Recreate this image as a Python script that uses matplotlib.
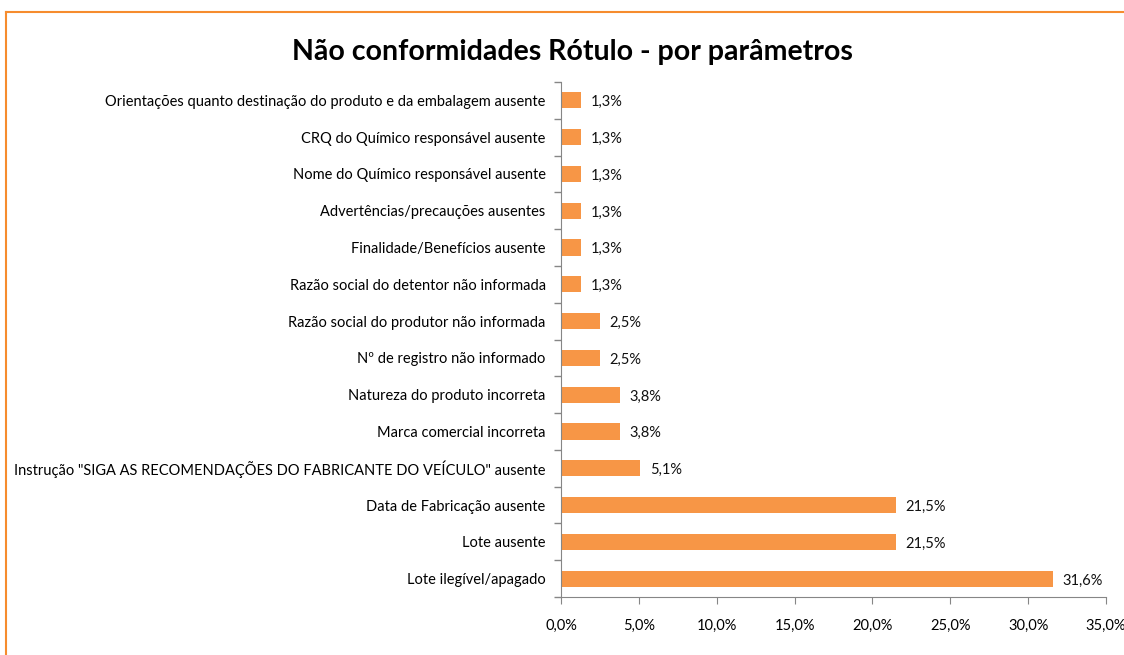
import matplotlib.pyplot as plt
from matplotlib.lines import Line2D
from matplotlib.ticker import FuncFormatter, MultipleLocator

categories = [
    "Lote ilegível/apagado",
    "Lote ausente",
    "Data de Fabricação ausente",
    "Instrução \"SIGA AS RECOMENDAÇÕES DO FABRICANTE DO VEÍCULO\" ausente",
    "Marca comercial incorreta",
    "Natureza do produto incorreta",
    "Nº de registro não informado",
    "Razão social do produtor não informada",
    "Razão social do detentor não informada",
    "Finalidade/Benefícios ausente",
    "Advertências/precauções ausentes",
    "Nome do Químico responsável ausente",
    "CRQ do Químico responsável ausente",
    "Orientações quanto destinação do produto e da embalagem ausente",
]
values = [31.6, 21.5, 21.5, 5.1, 3.8, 3.8, 2.5, 2.5, 1.3, 1.3, 1.3, 1.3, 1.3, 1.3]
title = "Não conformidades Rótulo - por parâmetros"

BAR_COLOR = "#F79646"
AXIS_COLOR = "#868686"
plt.rcParams['font.family'] = ['Lato', 'DejaVu Sans']

fig = plt.figure(figsize=(11.24, 6.55), dpi=100)
ax = fig.add_axes([561 / 1124, 1 - 597 / 655, (1106 - 561) / 1124, (597 - 82) / 655])

pos = list(range(len(categories)))
ax.barh(pos, values, height=0.44, color=BAR_COLOR)
for y, v in zip(pos, values):
    ax.text(v + 0.6, y - 0.05, f"{v:.1f}%".replace(".", ","), va="center", ha="left",
            fontsize=10.5, color="#111111")

ax.set_xlim(0, 35)
ax.set_ylim(-0.5, len(categories) - 0.5)
ax.xaxis.set_major_locator(MultipleLocator(5))
ax.xaxis.set_major_formatter(FuncFormatter(lambda x, _: f"{x:.1f}%".replace(".", ",")))
ax.set_yticks(pos)
ax.set_yticklabels(categories)
ax.set_yticks([p - 0.5 for p in pos] + [len(pos) - 0.5], minor=True)
ax.tick_params(axis="y", which="major", length=0, pad=11, labelsize=10.5)
ax.tick_params(axis="y", which="minor", length=5, color=AXIS_COLOR, width=1)
ax.tick_params(axis="x", length=5, color=AXIS_COLOR, labelsize=10.5, pad=11)

for s in ("top", "right"):
    ax.spines[s].set_visible(False)
for s in ("left", "bottom"):
    ax.spines[s].set_color(AXIS_COLOR)

fig.text(572 / 1124, 1 - 52 / 655, title, ha="center", va="center",
         fontsize=20.5, fontweight="bold")

# chart area border (partly cut off in the original)
fig.add_artist(Line2D([6.5 / 1124, 6.5 / 1124], [0, 1 - 12 / 655], color="#F68C2E", lw=1.5))
fig.add_artist(Line2D([6.5 / 1124, 1], [1 - 12 / 655, 1 - 12 / 655], color="#F68C2E", lw=1.5))

fig.savefig("out.png", dpi=100)
